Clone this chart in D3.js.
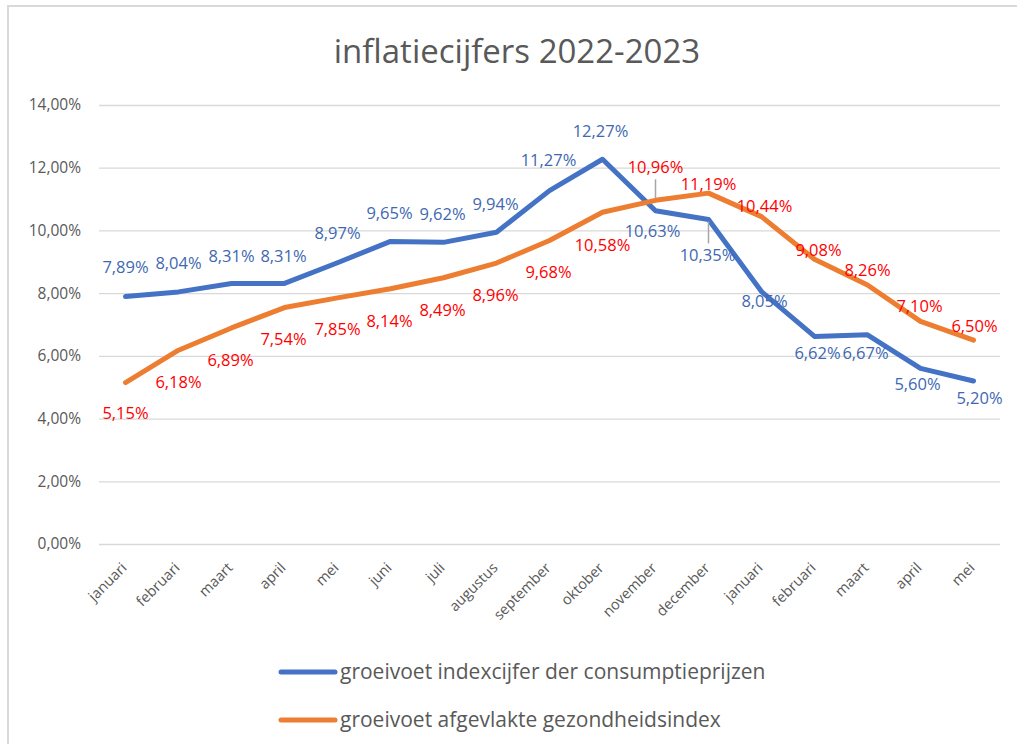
<!DOCTYPE html>
<html>
<head>
<meta charset="utf-8">
<script src="https://cdn.jsdelivr.net/npm/d3@7"></script>
<style>
  body { margin: 0; background: #fff; }
  text { font-family: "Open Sans", sans-serif; }
</style>
</head>
<body>
<script>
const months = ["januari", "februari", "maart", "april", "mei", "juni", "juli", "augustus",
  "september", "oktober", "november", "december", "januari", "februari", "maart", "april", "mei"];
const cpi = [7.89, 8.04, 8.31, 8.31, 8.97, 9.65, 9.62, 9.94, 11.27, 12.27, 10.63, 10.35, 8.05, 6.62, 6.67, 5.60, 5.20];
const health = [5.15, 6.18, 6.89, 7.54, 7.85, 8.14, 8.49, 8.96, 9.68, 10.58, 10.96, 11.19, 10.44, 9.08, 8.26, 7.10, 6.50];
const yTicks = [0, 2, 4, 6, 8, 10, 12, 14];
const seriesNames = ["groeivoet indexcijfer der consumptieprijzen", "groeivoet afgevlakte gezondheidsindex"];

// label placement (pixel offsets from the point), like Excel's manually moved labels
const cpiLabelPos = [[0,-29],[0,-29],[0,-27],[-1,-27],[0,-30],[-1,-28],[-1,-28],[-1,-28],[-1,-30],[-2,-28],
  [-3,21],[-1,36,true],[3,10],[3,17],[-2,18],[-3,16],[6,17]];
const healthLabelPos = [[0,31],[0,32],[-1,32],[-1,32],[0,31],[-1,32],[-1,32],[-1,32],[-1,32],[0,33],
  [0,-33,true],[0,-9],[3,-10],[4,-9],[0,-15],[-1,-15],[1,-14]];

const W = 1017, H = 744;
const svg = d3.select("body").append("svg")
    .attr("width", W)
    .attr("height", H);

// chart border
svg.append("rect")
    .attr("x", 8).attr("y", 6)
    .attr("width", W + 10).attr("height", H + 10)
    .attr("fill", "#fff")
    .attr("stroke", "#d9d9d9")
    .attr("stroke-width", 2);

svg.append("text")
    .attr("x", 517)
    .attr("y", 63)
    .attr("text-anchor", "middle")
    .attr("fill", "#595959")
    .style("font-size", "33px")
    .text("inflatiecijfers 2022-2023");

const idx = months.map((d, i) => i);
const x = d3.scalePoint()
    .domain(idx)
    .range([99, 1000])
    .padding(0.5);

const y = d3.scaleLinear()
    .domain([0, 14])
    .range([544, 105]);

const fmt = v => d3.format(".2f")(v).replace(".", ",") + "%";

// gridlines + y labels
const yAxis = svg.append("g")
    .attr("transform", "translate(99,0)")
    .call(d3.axisLeft(y).tickValues(yTicks).tickSize(-901).tickPadding(18).tickFormat(fmt));
yAxis.select(".domain").remove();
yAxis.selectAll(".tick line").attr("stroke", "#d9d9d9").attr("stroke-width", 1.3);
yAxis.selectAll(".tick text")
    .attr("fill", "#595959")
    .style("font-size", "15.5px")
    .style("font-family", "'Open Sans', sans-serif");

// x labels
const xAxis = svg.append("g")
    .attr("transform", "translate(0,544)")
    .call(d3.axisBottom(x).tickSize(0).tickFormat(i => months[i]));
xAxis.select(".domain").remove();
xAxis.selectAll(".tick text")
    .attr("fill", "#595959")
    .style("font-size", "14.5px")
    .style("font-family", "'Open Sans', sans-serif")
    .attr("text-anchor", "end")
    .attr("dy", "0.35em")
    .attr("transform", "translate(-4,19) rotate(-45)");

const line = d3.line()
    .x((d, i) => x(i))
    .y(d => y(d));

const series = [
  { values: cpi, color: "#4472C4", labelColor: "#4068B2", pos: cpiLabelPos },
  { values: health, color: "#ED7D31", labelColor: "#FF0000", pos: healthLabelPos }
];

series.forEach(s => {
  svg.append("path")
      .datum(s.values)
      .attr("d", line)
      .attr("fill", "none")
      .attr("stroke", s.color)
      .attr("stroke-width", 5)
      .attr("stroke-linejoin", "round")
      .attr("stroke-linecap", "round");
});

series.forEach(s => {
  // leader lines for the labels that were pulled away
  s.values.forEach((v, i) => {
    const p = s.pos[i];
    if (!p[2]) return;
    const up = p[1] < 0;
    svg.append("line")
        .attr("x1", x(i)).attr("x2", x(i))
        .attr("y1", y(v) + (up ? -2 : 2))
        .attr("y2", y(v) + p[1] + (up ? 12 : -12))
        .attr("stroke", "#a6a6a6")
        .attr("stroke-width", 1.5);
  });

  svg.selectAll(null)
      .data(s.values)
      .enter().append("text")
      .attr("x", (d, i) => x(i) + s.pos[i][0])
      .attr("y", (d, i) => y(d) + s.pos[i][1])
      .attr("dy", "0.35em")
      .attr("text-anchor", "middle")
      .attr("fill", s.labelColor)
      .style("font-size", "16.5px")
      .text(fmt);
});

// legend
const legend = svg.selectAll(".legend")
    .data(seriesNames)
    .enter().append("g")
    .attr("transform", (d, i) => `translate(281, ${672 + i * 48})`);

legend.append("line")
    .attr("x1", 0).attr("x2", 54)
    .attr("stroke", (d, i) => series[i].color)
    .attr("stroke-width", 5)
    .attr("stroke-linecap", "round");

legend.append("text")
    .attr("x", 59)
    .attr("dy", "0.35em")
    .attr("fill", "#595959")
    .style("font-size", "21px")
    .text(d => d);
</script>
</body>
</html>
